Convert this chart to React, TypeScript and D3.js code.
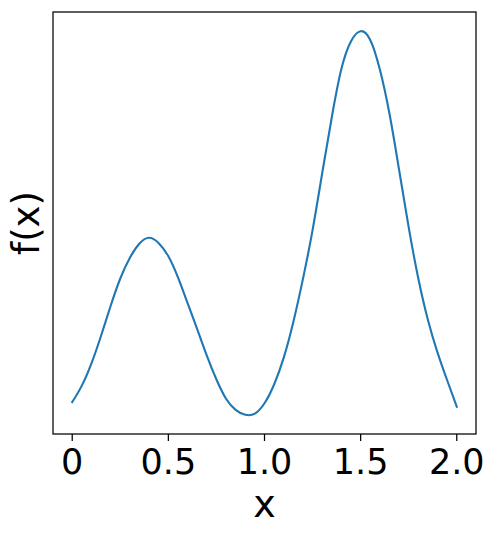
import React from "react";
import * as d3 from "d3";

const xValues = [
  0, 0.05, 0.1, 0.15, 0.2, 0.25, 0.3, 0.35, 0.4, 0.45, 0.5, 0.55, 0.6, 0.65, 0.7, 0.75, 0.8, 0.85, 0.9, 0.95,
  1.0, 1.05, 1.1, 1.15, 1.2, 1.25, 1.3, 1.35, 1.4, 1.45, 1.5, 1.55, 1.6, 1.65, 1.7, 1.75, 1.8, 1.85, 1.9, 1.95, 2.0,
];
const fValues = [
  0.034, 0.077, 0.135, 0.207, 0.285, 0.356, 0.41, 0.447, 0.462, 0.448, 0.414, 0.359, 0.292, 0.224, 0.155, 0.093,
  0.043, 0.014, 0.001, 0.004, 0.031, 0.08, 0.15, 0.243, 0.355, 0.482, 0.63, 0.776, 0.902, 0.974, 1.0, 0.977,
  0.9, 0.785, 0.639, 0.489, 0.356, 0.248, 0.163, 0.091, 0.022,
];
const xTicks = [0, 0.5, 1.0, 1.5, 2.0];
const xTickLabels = ["0", "0.5", "1.0", "1.5", "2.0"];
const xLabel = "x";
const yLabel = "f(x)";

export default function App() {
  const W = 498;
  const H = 535;
  const left = 53;
  const right = 476;
  const top = 12;
  const bottom = 434;
  const font = "'DejaVu Sans', sans-serif";

  const xExt = d3.extent(xValues) as [number, number];
  const xPad = (xExt[1] - xExt[0]) * 0.05;
  const x = d3.scaleLinear().domain([xExt[0] - xPad, xExt[1] + xPad]).range([left, right]);
  const yExt = d3.extent(fValues) as [number, number];
  const yPad = (yExt[1] - yExt[0]) * 0.05;
  const y = d3.scaleLinear().domain([yExt[0] - yPad, yExt[1] + yPad]).range([bottom, top]);

  const data = xValues.map((v, i) => [v, fValues[i]] as [number, number]);
  const line = d3
    .line<[number, number]>()
    .x((d) => x(d[0]))
    .y((d) => y(d[1]))
    .curve(d3.curveNatural);

  return (
    <svg
      width={W}
      height={H}
      style={{ position: "absolute", left: 0, top: 0, background: "#fff" }}
    >
      <rect x={0} y={0} width={W} height={H} fill="#fff" />
      <path d={line(data) || ""} fill="none" stroke="#1f77b4" strokeWidth={2.1} strokeLinejoin="round" strokeLinecap="square" />
      <rect x={left} y={top} width={right - left} height={bottom - top} fill="none" stroke="#000" strokeWidth={1.25} />
      {xTicks.map((t, i) => (
        <g key={i}>
          <line x1={x(t)} x2={x(t)} y1={bottom} y2={bottom + 7} stroke="#000" strokeWidth={1.25} />
          <text x={x(t)} y={474} textAnchor="middle" fontFamily={font} fontSize={35} fill="#000">
            {xTickLabels[i]}
          </text>
        </g>
      ))}
      <text x={(left + right) / 2} y={517} textAnchor="middle" fontFamily={font} fontSize={38} fill="#000">
        {xLabel}
      </text>
      <text
        transform={`translate(38.5, ${(top + bottom) / 2}) rotate(-90)`}
        textAnchor="middle"
        fontFamily={font}
        fontSize={37}
        fill="#000"
      >
        {yLabel}
      </text>
    </svg>
  );
}
